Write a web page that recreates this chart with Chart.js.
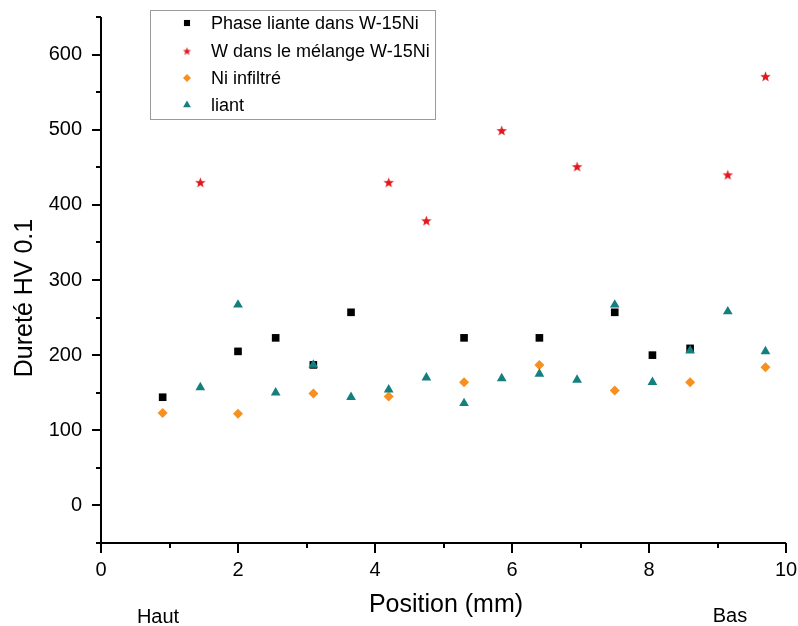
<!DOCTYPE html>
<html><head><meta charset="utf-8">
<script src="https://cdn.jsdelivr.net/npm/chart.js@4.4.0/dist/chart.umd.min.js"></script>
<style>html,body{margin:0;padding:0;background:#fff}canvas{display:block}</style>
</head><body>
<canvas id="c" width="798" height="626"></canvas>
<script>
const FONT = "'Liberation Sans', Arial, sans-serif";

const seriesNames = ["Phase liante dans W-15Ni", "W dans le mélange W-15Ni", "Ni infiltré", "liant"];

const phaseX = [0.9, 2.0, 2.55, 3.1, 3.65, 5.3, 6.4, 7.5, 8.05, 8.6];
const phaseY = [144, 205, 223, 187, 257, 223, 223, 257, 200, 209];

const wX = [1.45, 4.2, 4.75, 5.85, 6.95, 9.15, 9.7];
const wY = [430, 430, 379, 499, 451, 440, 571];

const niX = [0.9, 2.0, 3.1, 4.2, 5.3, 6.4, 7.5, 8.6, 9.7];
const niY = [123, 122, 149, 145, 164, 187, 153, 164, 184];

const liantX = [1.45, 2.0, 2.55, 3.1, 3.65, 4.2, 4.75, 5.3, 5.85, 6.4, 6.95, 7.5, 8.05, 8.6, 9.15, 9.7];
const liantY = [157, 267, 150, 187, 144, 154, 170, 136, 169, 175, 167, 267, 164, 206, 258, 205];

const xTickLabels = [0, 2, 4, 6, 8, 10];
const xMinorTicks = [1, 3, 5, 7, 9];
const yTickLabels = [0, 100, 200, 300, 400, 500, 600];
const yMinorTicks = [-50, 50, 150, 250, 350, 450, 550, 650];

const xTitle = "Position (mm)";
const yTitle = "Dureté HV 0.1";
const leftNote = "Haut";
const rightNote = "Bas";

const colors = { phase: '#000000', w: '#e0161d', ni: '#f7901e', liant: '#13807f' };

function pts(xs, ys) { return xs.map((x, i) => ({ x: x, y: ys[i] })); }

function makeStar(color, R) {
  const s = Math.ceil(R * 2 + 2);
  const cv = document.createElement('canvas');
  cv.width = s; cv.height = s;
  const c = cv.getContext('2d');
  c.fillStyle = color;
  c.beginPath();
  const cx = s / 2, cy = s / 2 + 0.5, r = R * 0.42;
  for (let i = 0; i < 10; i++) {
    const ang = -Math.PI / 2 + i * Math.PI / 5;
    const rr = i % 2 === 0 ? R : r;
    const px = cx + rr * Math.cos(ang), py = cy + rr * Math.sin(ang);
    if (i === 0) c.moveTo(px, py); else c.lineTo(px, py);
  }
  c.closePath();
  c.fill();
  return cv;
}
const starImg = makeStar(colors.w, 5.5);
const starLegend = makeStar(colors.w, 4.3);

const datasets = [
  { label: seriesNames[0], data: pts(phaseX, phaseY), pointStyle: 'rect', pointRadius: 5.4,
    backgroundColor: colors.phase, borderColor: colors.phase, borderWidth: 0, order: 2 },
  { label: seriesNames[1], data: pts(wX, wY), pointStyle: starImg, pointRadius: 5,
    backgroundColor: colors.w, borderColor: colors.w, borderWidth: 0, order: 1 },
  { label: seriesNames[2], data: pts(niX, niY), pointStyle: 'rectRot', pointRadius: 5,
    backgroundColor: colors.ni, borderColor: colors.ni, borderWidth: 0, order: 1 },
  { label: seriesNames[3], data: pts(liantX, liantY), pointStyle: 'triangle', pointRadius: 5.6,
    backgroundColor: colors.liant, borderColor: colors.liant, borderWidth: 0, order: 0 }
];

const decor = {
  id: 'decor',
  afterDraw(chart) {
    const ctx = chart.ctx, xs = chart.scales.x, ys = chart.scales.y, a = chart.chartArea;
    ctx.save();
    ctx.strokeStyle = '#000';
    ctx.lineWidth = 2;
    ctx.beginPath();
    ctx.moveTo(a.left, a.top); ctx.lineTo(a.left, a.bottom); ctx.lineTo(a.right, a.bottom);
    ctx.stroke();
    ctx.beginPath();
    xTickLabels.forEach(v => { const p = Math.round(xs.getPixelForValue(v)); ctx.moveTo(p, a.bottom); ctx.lineTo(p, a.bottom + 10); });
    xMinorTicks.forEach(v => { const p = Math.round(xs.getPixelForValue(v)); ctx.moveTo(p, a.bottom); ctx.lineTo(p, a.bottom + 5); });
    yTickLabels.forEach(v => { const p = Math.round(ys.getPixelForValue(v)); ctx.moveTo(a.left, p); ctx.lineTo(a.left - 9, p); });
    yMinorTicks.forEach(v => { const p = Math.round(ys.getPixelForValue(v)); ctx.moveTo(a.left, p); ctx.lineTo(a.left - 5, p); });
    ctx.stroke();

    // titles
    ctx.fillStyle = '#000';
    ctx.font = '25px ' + FONT;
    ctx.textAlign = 'center';
    ctx.textBaseline = 'alphabetic';
    ctx.fillText(xTitle, 446, 612);
    ctx.save();
    ctx.translate(32, 298);
    ctx.rotate(-Math.PI / 2);
    ctx.fillText(yTitle, 0, 0);
    ctx.restore();
    ctx.font = '20px ' + FONT;
    ctx.fillText(leftNote, 158, 623);
    ctx.fillText(rightNote, 730, 622);

    // legend
    ctx.lineWidth = 1;
    ctx.strokeStyle = '#9a9a9a';
    ctx.strokeRect(150.5, 10.5, 285, 109);
    const rows = [23, 51, 78, 105];
    ctx.font = '18px ' + FONT;
    ctx.textAlign = 'left';
    ctx.textBaseline = 'middle';
    chart.data.datasets.forEach((ds, i) => {
      ctx.fillStyle = ds.backgroundColor;
      ctx.strokeStyle = ds.borderColor;
      const style = i === 1 ? starLegend : ds.pointStyle;
      Chart.helpers.drawPoint(ctx, { pointStyle: style, radius: ds.pointRadius * 0.8, rotation: 0, borderWidth: 0 }, 187, rows[i]);
      ctx.fillStyle = '#000';
      ctx.fillText(ds.label, 211, rows[i] + 1);
    });
    ctx.restore();
  }
};

new Chart(document.getElementById('c'), {
  type: 'scatter',
  data: { datasets: datasets },
  options: {
    responsive: false,
    animation: false,
    devicePixelRatio: 1,
    layout: { padding: { left: 0, top: 17, right: 12, bottom: 0 } },
    plugins: { legend: { display: false }, tooltip: { enabled: false } },
    scales: {
      x: {
        type: 'linear', min: 0, max: 10,
        grid: { display: false, drawTicks: false },
        border: { display: false },
        afterBuildTicks: s => { s.ticks = xTickLabels.map(v => ({ value: v })); },
        afterFit: s => { s.height = 83; s.paddingLeft = 0; s.paddingRight = 0; },
        ticks: { color: '#000', font: { size: 20, family: FONT }, padding: 15, maxRotation: 0, autoSkip: false }
      },
      y: {
        type: 'linear', min: -50, max: 650,
        grid: { display: false, drawTicks: false },
        border: { display: false },
        afterBuildTicks: s => { s.ticks = yTickLabels.map(v => ({ value: v })); },
        afterFit: s => { s.width = 101; s.paddingTop = 0; s.paddingBottom = 0; },
        ticks: { color: '#000', font: { size: 20, family: FONT }, padding: 19, autoSkip: false }
      }
    }
  },
  plugins: [decor]
});
</script>
</body></html>
